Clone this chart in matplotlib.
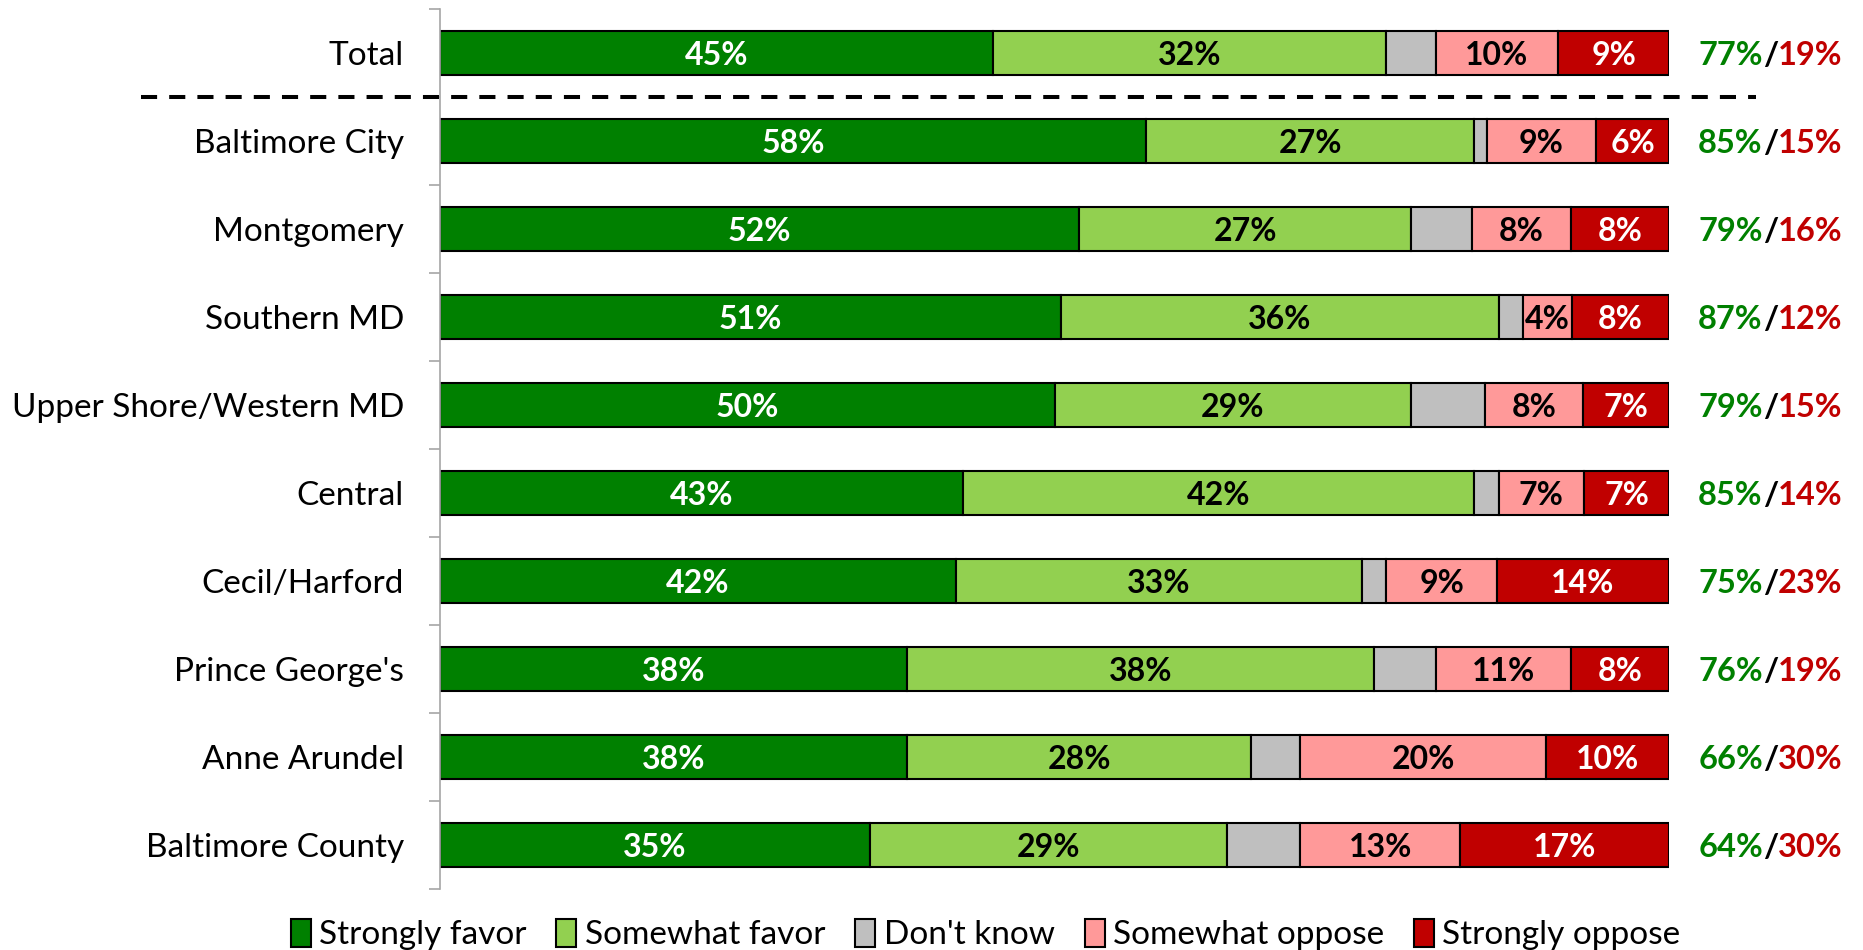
import matplotlib
matplotlib.use("Agg")
from matplotlib import pyplot as plt
from matplotlib import transforms
import numpy as np

plt.rcParams['font.family'] = ['Lato', 'DejaVu Sans']

regions = ["Total", "Baltimore City", "Montgomery", "Southern MD",
           "Upper Shore/Western MD", "Central", "Cecil/Harford",
           "Prince George's", "Anne Arundel", "Baltimore County"]

strongly_favor = [45, 58, 52, 51, 50, 43, 42, 38, 38, 35]
somewhat_favor = [32, 27, 27, 36, 29, 42, 33, 38, 28, 29]
dont_know = [4, 1, 5, 2, 6, 2, 2, 5, 4, 6]
somewhat_oppose = [10, 9, 8, 4, 8, 7, 9, 11, 20, 13]
strongly_oppose = [9, 6, 8, 8, 7, 7, 14, 8, 10, 17]

series = ["Strongly favor", "Somewhat favor", "Don't know",
          "Somewhat oppose", "Strongly oppose"]
colors = ["#008000", "#92d050", "#bfbfbf", "#ff9999", "#c00000"]
text_colors = ["white", "black", None, "black", "white"]

data = np.array([strongly_favor, somewhat_favor, dont_know,
                 somewhat_oppose, strongly_oppose], dtype=float)
# bars fill the full width, so scale each row to 100
widths = data / data.sum(axis=0) * 100

fig = plt.figure(figsize=(18.63, 9.5), dpi=100)
ax = fig.add_axes([0.2362, 0.0642, 0.6597, 0.9263])

y = np.arange(len(regions))
left = np.zeros(len(regions))
for i, name in enumerate(series):
    bars = ax.barh(y, widths[i], left=left, height=0.5, color=colors[i],
                   edgecolor="black", linewidth=1.5, label=name)
    if text_colors[i] is not None:
        for j, b in enumerate(bars):
            ax.text(left[j] + widths[i][j] / 2, y[j], f"{int(data[i][j])}%",
                    ha="center", va="center_baseline", color=text_colors[i],
                    fontsize=23, fontweight="bold")
    left += widths[i]

ax.set_xlim(0, 100)
ax.set_ylim(len(regions) - 0.5, -0.5)

for s in ["top", "right", "bottom"]:
    ax.spines[s].set_visible(False)
ax.spines["left"].set_color("#a6a6a6")
ax.spines["left"].set_linewidth(1.2)
ax.set_xticks([])
ax.set_yticks(y)
ax.set_yticklabels(regions, fontsize=24)
ax.tick_params(axis="y", which="major", length=0, pad=26)
ax.set_yticks(np.arange(-0.5, len(regions)), minor=True)
ax.tick_params(axis="y", which="minor", length=8, color="#a6a6a6", width=1.2)

# favor / oppose totals on the right
fav = data[0] + data[1]
opp = data[3] + data[4]
for j in range(len(regions)):
    t1 = ax.annotate(f"{int(fav[j])}%", xy=(100, y[j]), xytext=(21, 0),
                     textcoords="offset points", ha="left",
                     va="center_baseline", color="#008000", fontsize=23.5,
                     fontweight="bold", annotation_clip=False)
    t2 = ax.annotate("/", xycoords=t1, xy=(1, 0), ha="left", va="bottom",
                     color="black", fontsize=23.5, fontweight="bold")
    ax.annotate(f"{int(opp[j])}%", xycoords=t2, xy=(1, 0), ha="left",
                va="bottom", color="#c00000", fontsize=23.5,
                fontweight="bold")

# dashed separator below Total
trans = transforms.blended_transform_factory(fig.transFigure, ax.transData)
ax.plot([0.0757, 0.9426], [0.5, 0.5], transform=trans, color="black",
        linewidth=2.9, linestyle=(0, (4, 3)), clip_on=False)

fig.legend(loc="lower center", ncol=5, bbox_to_anchor=(0.529, -0.032),
           frameon=False, fontsize=24, handlelength=0.6, handleheight=0.9,
           handletextpad=0.25, columnspacing=0.9)

fig.savefig("out.png", dpi=100)
